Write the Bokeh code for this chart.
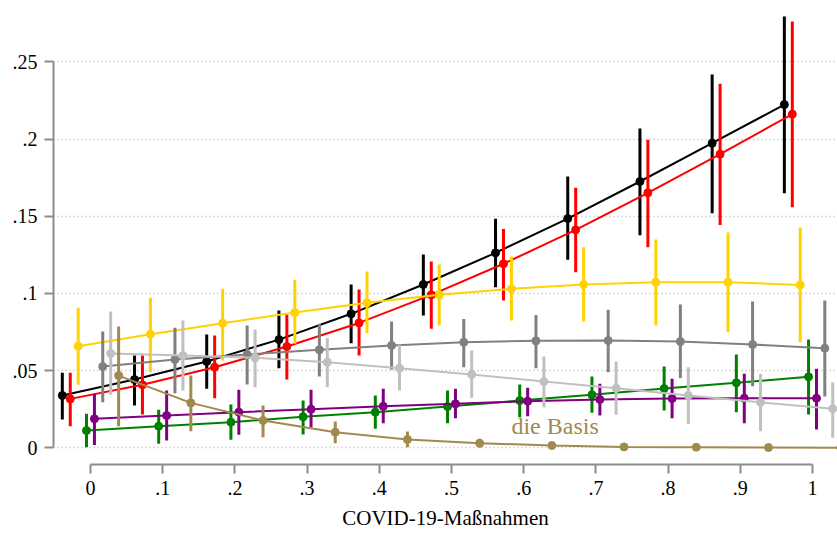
from bokeh.plotting import figure
from bokeh.models import ColumnDataSource, FixedTicker, CustomJSTickFormatter, Range1d, Label
from bokeh.transform import dodge
from bokeh.embed import file_html
from bokeh.resources import INLINE

# ---- data ----
x_base = [0.0, 0.1, 0.2, 0.3, 0.4, 0.5, 0.6, 0.7, 0.8, 0.9, 1.0]
x_ticks = [0.0, 0.1, 0.2, 0.3, 0.4, 0.5, 0.6, 0.7, 0.8, 0.9, 1.0]
y_ticks = [0.0, 0.05, 0.10, 0.15, 0.20, 0.25]
x_title = "COVID-19-Maßnahmen"
basis_label = "die Basis"

black_est = [0.0339, 0.0442, 0.0559, 0.0701, 0.0868, 0.1058, 0.1263, 0.1485, 0.1725, 0.1973, 0.2223]
black_lo = [0.0183, 0.0274, 0.0382, 0.0516, 0.0678, 0.0857, 0.1040, 0.1218, 0.1377, 0.1519, 0.1649]
black_hi = [0.0486, 0.0598, 0.0734, 0.0889, 0.1058, 0.1252, 0.1483, 0.1757, 0.2068, 0.2418, 0.2794]

red_est = [0.0317, 0.0408, 0.0522, 0.0656, 0.0809, 0.0991, 0.1192, 0.1412, 0.1652, 0.1902, 0.2161]
red_lo = [0.0140, 0.0216, 0.0321, 0.0442, 0.0598, 0.0771, 0.0954, 0.1137, 0.1299, 0.1444, 0.1558]
red_hi = [0.0486, 0.0598, 0.0727, 0.0863, 0.1025, 0.1207, 0.1418, 0.1684, 0.1995, 0.2358, 0.2761]

gold_est = [0.0658, 0.0736, 0.0807, 0.0876, 0.0939, 0.0991, 0.1030, 0.1058, 0.1073, 0.1073, 0.1055]
gold_lo = [0.0408, 0.0490, 0.0565, 0.0674, 0.0742, 0.0792, 0.0824, 0.0818, 0.0792, 0.0749, 0.0684]
gold_hi = [0.0907, 0.0972, 0.1030, 0.1088, 0.1142, 0.1187, 0.1239, 0.1299, 0.1349, 0.1394, 0.1427]

green_est = [0.0112, 0.0140, 0.0166, 0.0201, 0.0231, 0.0267, 0.0306, 0.0343, 0.0384, 0.0421, 0.0460]
green_lo = [0.0004, 0.0026, 0.0052, 0.0086, 0.0123, 0.0159, 0.0198, 0.0227, 0.0242, 0.0231, 0.0216]
green_hi = [0.0220, 0.0246, 0.0280, 0.0306, 0.0339, 0.0371, 0.0410, 0.0462, 0.0527, 0.0604, 0.0701]

purple_est = [0.0188, 0.0209, 0.0231, 0.0250, 0.0269, 0.0285, 0.0302, 0.0313, 0.0319, 0.0321, 0.0321]
purple_lo = [0.0019, 0.0047, 0.0084, 0.0133, 0.0159, 0.0192, 0.0205, 0.0209, 0.0192, 0.0159, 0.0119]
purple_hi = [0.0350, 0.0371, 0.0376, 0.0376, 0.0382, 0.0382, 0.0389, 0.0415, 0.0447, 0.0479, 0.0512]

gray_est = [0.0526, 0.0572, 0.0604, 0.0635, 0.0663, 0.0684, 0.0693, 0.0695, 0.0688, 0.0669, 0.0645]
gray_lo = [0.0296, 0.0354, 0.0410, 0.0462, 0.0505, 0.0522, 0.0516, 0.0490, 0.0453, 0.0399, 0.0332]
gray_hi = [0.0753, 0.0777, 0.0792, 0.0803, 0.0818, 0.0835, 0.0861, 0.0894, 0.0928, 0.0948, 0.0954]

lgray_est = [0.0611, 0.0598, 0.0583, 0.0554, 0.0516, 0.0475, 0.0429, 0.0386, 0.0339, 0.0295, 0.0253]
lgray_lo = [0.0343, 0.0371, 0.0392, 0.0392, 0.0371, 0.0324, 0.0263, 0.0214, 0.0155, 0.0108, 0.0065]
lgray_hi = [0.0883, 0.0824, 0.0766, 0.0712, 0.0667, 0.0630, 0.0591, 0.0559, 0.0522, 0.0479, 0.0425]

brown_est = [0.0468, 0.0291, 0.0177, 0.0101, 0.0054, 0.0030, 0.0015, 0.0006, 0.0004, 0.0002, 0.0001]
brown_lo = [0.0140, 0.0108, 0.0069, 0.0030, 0.0004, 0.0002, 0.0002, 0.0001, 0.0001, 0.0000, 0.0000]
brown_hi = [0.0786, 0.0468, 0.0274, 0.0170, 0.0106, 0.0058, 0.0030, 0.0012, 0.0008, 0.0004, 0.0002]

# ---- styling ----
BROWN = "#A08A4E"
series = [
    ("#000000", -0.039, black_est, black_lo, black_hi),
    ("#FF0000", -0.028, red_est, red_lo, red_hi),
    ("#FFD200", -0.017, gold_est, gold_lo, gold_hi),
    ("#008000", -0.0055, green_est, green_lo, green_hi),
    ("#800080", 0.0055, purple_est, purple_lo, purple_hi),
    ("#808080", 0.017, gray_est, gray_lo, gray_hi),
    ("#C0C0C0", 0.028, lgray_est, lgray_lo, lgray_hi),
    (BROWN, 0.039, brown_est, brown_lo, brown_hi),
]

p = figure(width=837, height=534, output_backend="svg", toolbar_location=None,
           x_range=Range1d(-0.0512, 1.0346), y_range=Range1d(-0.0108, 0.2865),
           min_border_left=53, min_border_right=0, min_border_top=5, min_border_bottom=70)
p.outline_line_color = None
p.background_fill_color = "white"
p.border_fill_color = "white"

for color, off, est, lo, hi in series:
    src = ColumnDataSource(dict(x=x_base, est=est, lo=lo, hi=hi))
    xd = dodge("x", off, range=p.x_range)
    p.segment(x0=xd, y0="lo", x1=xd, y1="hi", source=src, line_color=color, line_width=3)
    p.line(x=xd, y="est", source=src, line_color=color, line_width=2)
    p.scatter(x=xd, y="est", source=src, size=8, fill_color=color, line_color=color)

p.add_layout(Label(x=0.583, y=0.0144, text=basis_label, text_font="Liberation Serif",
                   text_font_size="24px", text_color=BROWN, text_baseline="middle",
                   text_align="left"))

fmt = CustomJSTickFormatter(code="""
var s = tick.toFixed(2).replace(/0+$/, '').replace(/\\.$/, '').replace(/^0\\./, '.');
return s;
""")

AX = "#8C8C8C"
for ax in (p.xaxis[0], p.yaxis[0]):
    ax.formatter = fmt
    ax.axis_line_color = AX
    ax.axis_line_width = 2
    ax.major_tick_line_color = AX
    ax.major_tick_line_width = 2
    ax.major_tick_out = 9
    ax.major_tick_in = 0
    ax.minor_tick_line_color = None
    ax.major_label_text_font = "Liberation Serif"
    ax.major_label_text_font_size = "20px"
    ax.major_label_text_color = "#000000"
    ax.major_label_standoff = 7

p.xaxis.ticker = FixedTicker(ticks=x_ticks)
p.yaxis.ticker = FixedTicker(ticks=y_ticks)
p.xaxis.bounds = (0, 1)
p.yaxis.bounds = (0, 0.25)
p.yaxis.major_label_orientation = "horizontal"
p.xaxis.axis_label = x_title
p.xaxis.axis_label_text_font = "Liberation Serif"
p.xaxis.axis_label_text_font_size = "21px"
p.xaxis.axis_label_text_font_style = "normal"
p.xaxis.axis_label_text_color = "#000000"
p.xaxis.axis_label_standoff = 8

p.xgrid.visible = False
p.ygrid.grid_line_color = "#B4B4B4"
p.ygrid.grid_line_width = 1.5
p.ygrid.grid_line_dash = "1 3"

open("out.html", "w").write(file_html(p, INLINE))
